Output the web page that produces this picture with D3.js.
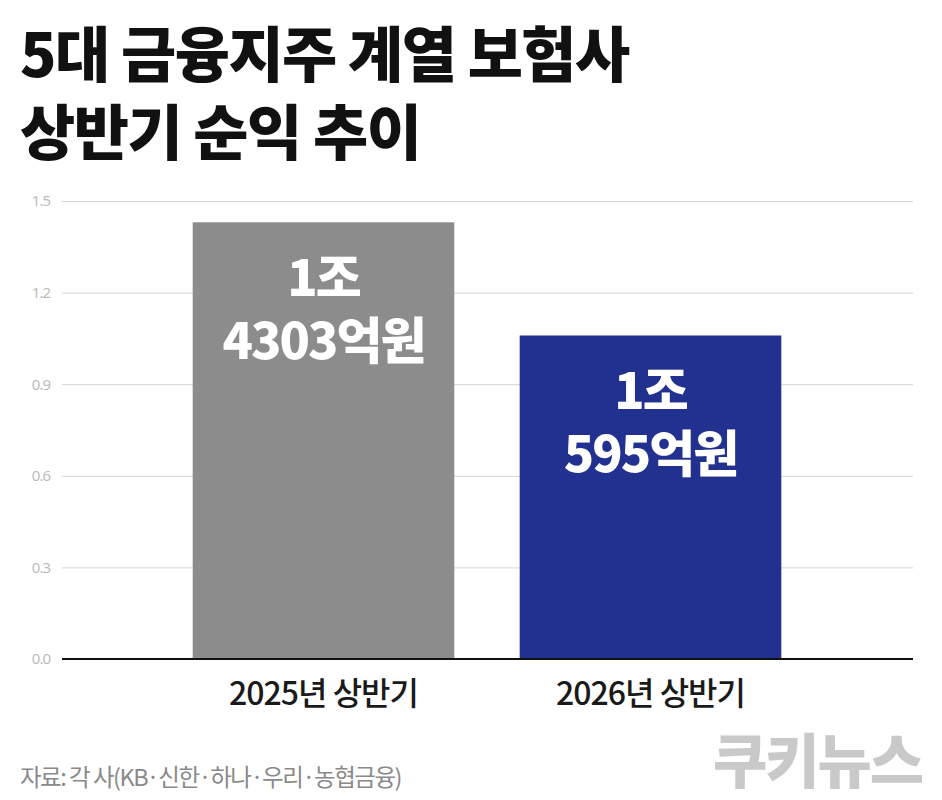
<!DOCTYPE html>
<html>
<head>
<meta charset="utf-8">
<script src="https://cdn.jsdelivr.net/npm/d3@7"></script>
<style>
  html, body { margin: 0; padding: 0; background: #fff; }
  svg { display: block; font-family: 'Noto Sans CJK KR', 'Noto Sans', sans-serif; }
</style>
</head>
<body>
<div id="chart"></div>
<script>
const titleLines = ['5대 금융지주 계열 보험사', '상반기 순익 추이'];
const categories = ['2025년 상반기', '2026년 상반기'];
const values = [1.4303, 1.0595];
const valueLabels = [['1조', '4303억원'], ['1조', '595억원']];
const barColors = ['#8c8c8c', '#22318f'];
const yTicks = [0, 0.3, 0.6, 0.9, 1.2, 1.5];
const sourceText = '자료: 각 사(KB·신한·하나·우리·농협금융)';
const brandText = '쿠키뉴스';

const width = 942;
const height = 800;

const svg = d3.select('#chart').append('svg')
  .attr('width', width)
  .attr('height', height);

// Title
svg.append('g')
  .selectAll('text')
  .data(titleLines)
  .join('text')
  .attr('x', 20)
  .attr('y', (d, i) => 77 + i * 78)
  .attr('fill', '#111')
  .attr('font-size', 60)
  .attr('font-weight', 900)
  .attr('letter-spacing', -1.5)
  .text((d) => d);

// Scales
const x = d3.scaleBand()
  .domain(categories)
  .range([160, 814])
  .paddingInner(0.2)
  .paddingOuter(0.1);

const y = d3.scaleLinear()
  .domain([0, 1.5])
  .range([659, 201]);

const gridLeft = 62;
const gridRight = 913;

// Grid lines
const yAxis = svg.append('g')
  .attr('transform', `translate(${gridLeft},0)`)
  .call(d3.axisLeft(y)
    .tickValues(yTicks)
    .tickSize(-(gridRight - gridLeft))
    .tickPadding(12)
    .tickFormat(d3.format('.1f')));

yAxis.select('.domain').remove();
yAxis.selectAll('.tick line')
  .attr('stroke', '#d4d4d4')
  .attr('stroke-width', 1);
yAxis.selectAll('.tick text')
  .attr('fill', '#bcbcbc')
  .attr('font-size', 15)
  .attr('letter-spacing', -1)
  .style('font-family', "'Noto Sans', sans-serif");

// Bars
svg.append('g')
  .selectAll('rect')
  .data(values)
  .join('rect')
  .attr('x', (d, i) => x(categories[i]))
  .attr('y', (d) => y(d))
  .attr('width', x.bandwidth())
  .attr('height', (d) => y(0) - y(d))
  .attr('fill', (d, i) => barColors[i]);

// Baseline
svg.append('line')
  .attr('x1', gridLeft)
  .attr('x2', gridRight)
  .attr('y1', y(0))
  .attr('y2', y(0))
  .attr('stroke', '#111')
  .attr('stroke-width', 2);

// Value labels inside bars
const labelGroups = svg.append('g')
  .selectAll('g')
  .data(values)
  .join('g')
  .attr('transform', (d, i) => `translate(${x(categories[i]) + x.bandwidth() / 2},${y(d)})`);

labelGroups.selectAll('text')
  .data((d, i) => valueLabels[i])
  .join('text')
  .attr('text-anchor', 'middle')
  .attr('y', (d, j) => 74 + j * 63)
  .attr('fill', '#fff')
  .attr('font-size', 50)
  .attr('font-weight', 900)
  .attr('letter-spacing', -2)
  .text((d) => d);

// Category labels
svg.append('g')
  .selectAll('text')
  .data(categories)
  .join('text')
  .attr('x', (d) => x(d) + x.bandwidth() / 2)
  .attr('y', 705)
  .attr('text-anchor', 'middle')
  .attr('fill', '#1a1a1a')
  .attr('font-size', 32)
  .attr('font-weight', 500)
  .attr('letter-spacing', -1)
  .text((d) => d);

// Source
svg.append('text')
  .attr('x', 20)
  .attr('y', 786)
  .attr('fill', '#8a8a8a')
  .attr('font-size', 23.5)
  .attr('letter-spacing', -1.5)
  .text(sourceText);

// Brand watermark
svg.append('text')
  .attr('x', 922)
  .attr('y', 783)
  .attr('text-anchor', 'end')
  .attr('fill', '#c9c9c9')
  .attr('font-size', 59)
  .attr('font-weight', 900)
  .attr('letter-spacing', -2)
  .text(brandText);
</script>
</body>
</html>
